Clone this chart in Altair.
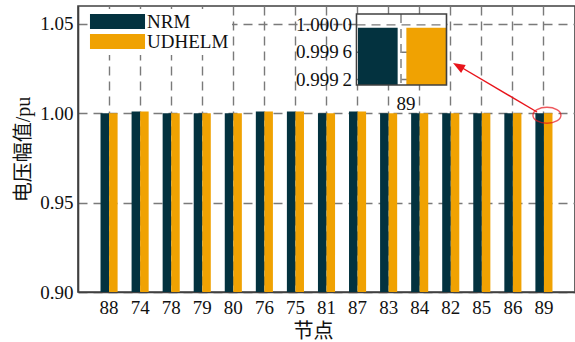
import altair as alt
import pandas as pd

# Bus numbers along the x axis and voltage magnitudes (pu) from both solvers
buses = ["88", "74", "78", "79", "80", "76", "75", "81", "87", "83", "84", "82", "85", "86", "89"]
nrm = [1.000, 1.001, 1.000, 1.000, 1.000, 1.001, 1.001, 1.000, 1.001, 1.000, 1.000, 1.000, 1.000, 1.000, 0.99996]
udhelm = [1.000, 1.001, 1.000, 1.000, 1.000, 1.001, 1.001, 1.000, 1.001, 1.000, 1.000, 1.000, 1.000, 1.000, 0.99996]
series = ["NRM", "UDHELM"]
colors = ["#03323f", "#f0a202"]

y_ticks = [0.90, 0.95, 1.00, 1.05]
y_domain = [0.90, 1.06]

# Zoomed view of bus 89
zoom_bus = "89"
zoom_ticks = [1.0000, 0.9996, 0.9992]
zoom_tick_labels = ["1.000\u20090", "0.999\u20096", "0.999\u20092"]
zoom_domain = [0.99912, 1.00016]

FONT = "Liberation Serif, Noto Sans CJK SC"
GRID = "#7a7a7a"
FRAME = "#404040"

rows = []
for b, a, u in zip(buses, nrm, udhelm):
    rows.append({"bus": b, "series": "NRM", "v": a, "base": y_domain[0]})
    rows.append({"bus": b, "series": "UDHELM", "v": u, "base": y_domain[0]})
df = pd.DataFrame(rows)

# Wide flat legend swatches: a 15px symbol slot with a path stretched sideways
color = alt.Color(
    "series:N",
    scale=alt.Scale(domain=series, range=colors),
    legend=alt.Legend(
        title=None,
        orient="none",
        legendX=27,
        legendY=3,
        symbolType="M-3.67,-1H3.67V1H-3.67Z",
        symbolSize=225,
        symbolStrokeWidth=0,
        symbolOpacity=1,
        labelFont=FONT,
        labelFontSize=19,
        labelColor="#111",
        labelOffset=20,
        rowPadding=0,
        padding=3,
        fillColor="white",
    ),
)

x_main = alt.X(
    "bus:N",
    sort=buses,
    scale=alt.Scale(paddingInner=0.45, paddingOuter=0.725),
    axis=alt.Axis(
        title="节点",
        titleFont=FONT,
        titleFontSize=20,
        titleFontWeight="normal",
        titleColor="#111",
        titleX=235,
        titlePadding=4,
        labelFont=FONT,
        labelFontSize=19,
        labelColor="#111",
        labelAngle=0,
        labelPadding=6,
        ticks=False,
        bandPosition=0.5,
        grid=True,
        gridColor=GRID,
        gridDash=[9, 6],
        gridWidth=1.4,
        domainColor=FRAME,
        domainWidth=1.6,
    ),
)
y_main = alt.Y(
    "v:Q",
    scale=alt.Scale(domain=y_domain, zero=False, nice=False),
    axis=alt.Axis(
        title="电压幅值/pu",
        titleFont=FONT,
        titleFontSize=20,
        titleFontWeight="normal",
        titleColor="#111",
        titlePadding=6,
        values=y_ticks,
        format=".2f",
        labelFont=FONT,
        labelFontSize=19,
        labelColor="#111",
        labelPadding=5,
        ticks=False,
        grid=True,
        gridColor=GRID,
        gridDash=[9, 6],
        gridWidth=1.4,
        domainColor=FRAME,
        domainWidth=1.6,
    ),
)

bars = alt.Chart(df).mark_bar(clip=True).encode(
    x=x_main,
    xOffset=alt.XOffset("series:N", sort=series, scale=alt.Scale(paddingInner=0, paddingOuter=0)),
    y=y_main,
    y2="base:Q",
    color=color,
)

# Red ellipse around bus 89
mark_df = pd.DataFrame({"bus": [zoom_bus], "v": [1.0]})
ellipse = alt.Chart(mark_df).mark_point(
    shape="M-1,0A1,0.57,0,1,0,1,0A1,0.57,0,1,0,-1,0Z",
    size=784,
    color="#e8141b",
    strokeWidth=1.4,
    filled=False,
    xOffset=3,
    yOffset=2,
).encode(x=alt.X("bus:N", sort=buses), y="v:Q")

one = pd.DataFrame({"k": [0]})
arrow_line = alt.Chart(one).mark_rule(color="#e8141b", strokeWidth=1.4).encode(
    x=alt.value(459), y=alt.value(106), x2=alt.value(381), y2=alt.value(60)
)
arrow_head = alt.Chart(one).mark_point(
    shape="M0,0L-0.38,1L0.38,1Z",
    size=576,
    angle=300,
    filled=True,
    color="#e8141b",
    opacity=1,
).encode(x=alt.value(375), y=alt.value(57))

main = alt.layer(bars, ellipse, arrow_line, arrow_head)

# Inset: its own scales mapped onto a small box inside the plot
zdf = df[df["bus"] == zoom_bus].copy()
zdf["zbase"] = zoom_domain[0]
x_in = alt.X("series:N", sort=series, axis=None,
             scale=alt.Scale(domain=series, range=[280, 368], paddingInner=0.18, paddingOuter=0))
y_scale_in = alt.Scale(domain=zoom_domain, range=[79, 8], zero=False, nice=False)

inset_bg = alt.Chart(one).mark_rect(fill="white").encode(
    x=alt.value(278.5), x2=alt.value(368.5), y=alt.value(8), y2=alt.value(79)
)
tick_df = pd.DataFrame({"t": zoom_ticks, "lab": zoom_tick_labels})
inset_hgrid = alt.Chart(tick_df).mark_rule(color=GRID, strokeDash=[9, 6], strokeWidth=1.4).encode(
    y=alt.Y("t:Q", scale=y_scale_in, axis=None), x=alt.value(278.5), x2=alt.value(368.5)
)
inset_vgrid = alt.Chart(one).mark_rule(color=GRID, strokeDash=[9, 6], strokeWidth=1.4).encode(
    x=alt.value(323), y=alt.value(8), y2=alt.value(79)
)
inset_bars = alt.Chart(zdf).mark_bar().encode(
    x=x_in,
    y=alt.Y("v:Q", scale=y_scale_in, axis=None),
    y2="zbase:Q",
    color=alt.Color("series:N", scale=alt.Scale(domain=series, range=colors), legend=None),
)
inset_frame = alt.Chart(one).mark_rect(fill=None, stroke=FRAME, strokeWidth=1.6).encode(
    x=alt.value(278.5), x2=alt.value(368.5), y=alt.value(8), y2=alt.value(79)
)
inset_labels = alt.Chart(tick_df).mark_text(
    align="right", baseline="middle", font=FONT, fontSize=19, color="#111"
).encode(
    y=alt.Y("t:Q", scale=y_scale_in, axis=None), x=alt.value(274), text="lab:N"
)
inset_xlabel = alt.Chart(pd.DataFrame({"lab": [zoom_bus]})).mark_text(
    align="center", baseline="middle", font=FONT, fontSize=19, color="#111"
).encode(x=alt.value(328), y=alt.value(98), text="lab:N")

inset = alt.layer(inset_bg, inset_hgrid, inset_vgrid, inset_bars, inset_frame, inset_labels, inset_xlabel)

chart = (
    alt.layer(main, inset)
    .resolve_scale(x="independent", y="independent")
    .properties(
        width=497,
        height=286,
        autosize=alt.AutoSizeParams(type="none"),
        padding={"left": 78, "top": 6, "right": 0, "bottom": 50},
        background="white",
    )
    .configure_view(stroke=FRAME, strokeWidth=1.6)
)

chart.save("out.html", embed_options={"renderer": "svg", "actions": False})
